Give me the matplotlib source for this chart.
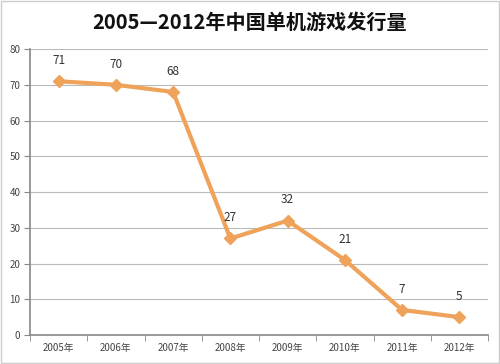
import matplotlib
matplotlib.use("Agg")
import matplotlib.pyplot as plt
import numpy as np

plt.rcParams['font.family'] = ['Noto Sans CJK SC', 'DejaVu Sans']

categories = ["2005年", "2006年", "2007年", "2008年", "2009年", "2010年", "2011年", "2012年"]
values = [71, 70, 68, 27, 32, 21, 7, 5]
yticks = [0, 10, 20, 30, 40, 50, 60, 70, 80]

fig = plt.figure(figsize=(5, 3.64), dpi=100)
ax = fig.add_axes([0.06, 0.0797, 0.916, 0.7855])

x = np.arange(len(categories))
line_color = '#EFA35A'
ax.plot(x, values, color=line_color, lw=3, marker='D', ms=6,
        markerfacecolor=line_color, markeredgecolor=line_color, zorder=3)
for xi, v in zip(x, values):
    ax.text(xi, v + 4, str(v), ha='center', va='bottom', fontsize=8.5, color='#333333')

ax.set_xlim(-0.5, len(categories) - 0.5)
ax.set_ylim(0, 80)
ax.set_yticks(yticks)
ax.set_yticklabels([str(t) for t in yticks], fontsize=7, color='#444444')
ax.set_xticks(x)
ax.set_xticklabels(categories, fontsize=7, color='#444444')
ax.set_xticks(np.arange(-0.5, len(categories)), minor=True)
ax.tick_params(axis='x', which='major', length=0, pad=6)
ax.tick_params(axis='x', which='minor', length=4, color='#888888')
ax.tick_params(axis='y', length=4, color='#888888', pad=3)

ax.yaxis.grid(True, color='#BBBBBB', lw=0.8)
ax.set_axisbelow(True)
for s in ['top', 'right']:
    ax.spines[s].set_visible(False)
ax.spines['left'].set_color('#888888')
ax.spines['bottom'].set_color('#888888')
ax.spines['left'].set_linewidth(1.2)
ax.spines['bottom'].set_linewidth(1.2)

fig.text(0.5, 0.94, "2005—2012年中国单机游戏发行量", ha='center', va='center',
         fontsize=14.5, fontweight='bold', color='#111111')

fig.patches.append(plt.Rectangle((0.002, 0.002), 0.996, 0.996, transform=fig.transFigure,
                                 fill=False, edgecolor='#CCCCCC', lw=1))

fig.savefig("out.png", dpi=100)
